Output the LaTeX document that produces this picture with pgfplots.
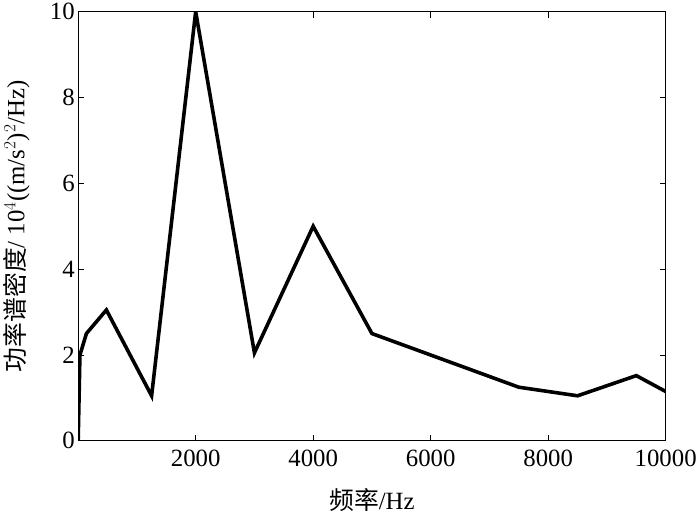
\documentclass[border=0pt]{standalone}
\usepackage{pgfplots}
\pgfplotsset{compat=1.18}
\usepackage{fontspec}
\setmainfont{Liberation Serif}
\newfontfamily\cjk{Noto Sans CJK SC}
\begin{document}
\begin{tikzpicture}
\begin{axis}[
  scale only axis,
  width=590bp, height=431bp,
  xmin=0, xmax=10000, ymin=0, ymax=10,
  xtick={2000,4000,6000,8000,10000},
  ytick={0,2,4,6,8,10},
  tick align=inside,
  major tick length=6bp,
  axis line style={line width=1.2pt},
  tick style={line width=1pt, black},
  font=\fontsize{25}{27}\selectfont,
  /pgf/number format/assume math mode=true,
  /pgf/number format/set thousands separator={},
  scaled x ticks=false,
  xticklabel style={yshift=-6bp},
  yticklabel style={xshift=0bp},
  xlabel={{\cjk 频率}/Hz},
  ylabel={{\cjk 功率谱密度}/ 10$^4$((m/s$^2$)$^2$/Hz)},
  xlabel style={at={(axis description cs:0.5,-0.137)}, anchor=center},
  ylabel style={at={(axis description cs:-0.105,0.5)}, anchor=center, rotate=0},
]
\addplot[black, line width=3.6bp, line join=miter] coordinates {
(0,0) (30,2.0) (140,2.5) (480,3.05) (1250,1.05) (2000,10) (3000,2.05) (4000,5.0) (5000,2.5) (7500,1.25) (8500,1.05) (9500,1.52) (10000,1.15)
};
\end{axis}
\end{tikzpicture}
\end{document}
